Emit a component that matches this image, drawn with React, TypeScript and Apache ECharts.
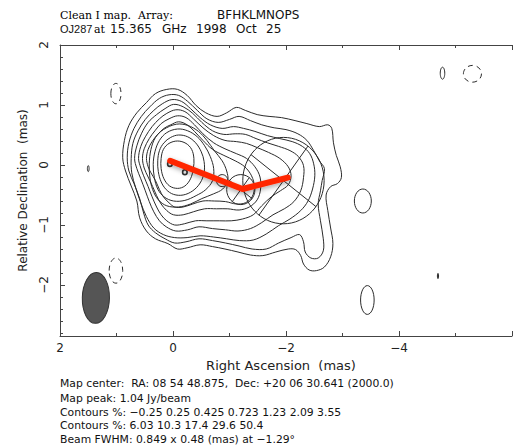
import React, { useEffect, useRef } from 'react';
import * as echarts from 'echarts';

// ---- axis ticks ----
const yMajorTicks = [2, 1, 0, -1, -2];
const yMinorTicks = [1.8, 1.6, 1.4, 1.2, 0.8, 0.6, 0.4, 0.2, -0.2, -0.4, -0.6, -0.8, -1.2, -1.4, -1.6, -1.8, -2.2, -2.4, -2.6, -2.8];

// ---- map metadata ----
const mapPeak = 1.04; // Jy/beam
const contourLevels = [-0.25, 0.25, 0.425, 0.723, 1.23, 2.09, 3.55, 6.03, 10.3, 17.4, 29.6, 50.4];
const beamFWHM = [0.849, 0.48]; // mas
const beamPA = -1.29; // deg
const beamCenter = [1.365, -2.215]; // RA, Dec (mas)
const titleWords2 = ['15.365', 'GHz', '1998', 'Oct', '25'];

// ---- contour traces (RA mas, Dec mas) ----
const contour0250 = [[0.89,0.12],[0.86,0.41],[0.78,0.66],[0.64,0.87],[0.47,1.04],[0.31,1.19],[0.11,1.26],[-0.08,1.26],[-0.25,1.16],[-0.41,0.99],[-0.58,0.87],[-0.78,0.81],[-0.95,0.87],[-1.12,0.96],[-1.28,0.91],[-1.49,0.84],[-1.70,0.81],[-1.92,0.79],[-2.16,0.74],[-2.37,0.69],[-2.59,0.64],[-2.74,0.67],[-2.81,0.61],[-2.84,0.37],[-2.89,0.16],[-2.96,-0.03],[-2.98,-0.21],[-2.91,-0.31],[-2.79,-0.36],[-2.71,-0.50],[-2.74,-0.76],[-2.79,-1.05],[-2.83,-1.31],[-2.79,-1.53],[-2.68,-1.70],[-2.54,-1.76],[-2.41,-1.75],[-2.31,-1.65],[-2.26,-1.51],[-2.17,-1.41],[-2.04,-1.40],[-1.82,-1.45],[-1.59,-1.51],[-1.37,-1.50],[-1.15,-1.45],[-0.92,-1.40],[-0.70,-1.36],[-0.48,-1.33],[-0.25,-1.38],[-0.08,-1.40],[0.09,-1.31],[0.31,-1.23],[0.47,-1.10],[0.59,-0.88],[0.64,-0.60],[0.74,-0.35],[0.84,-0.10]];
const contour0425 = [[0.81,0.12],[0.78,0.37],[0.69,0.61],[0.56,0.81],[0.41,0.97],[0.24,1.11],[0.07,1.17],[-0.10,1.16],[-0.26,1.06],[-0.43,0.91],[-0.60,0.77],[-0.80,0.71],[-1.00,0.76],[-1.17,0.81],[-1.37,0.74],[-1.57,0.67],[-1.79,0.62],[-2.00,0.59],[-2.21,0.52],[-2.37,0.41],[-2.49,0.24],[-2.59,0.07],[-2.68,-0.06],[-2.64,-0.26],[-2.61,-0.43],[-2.57,-0.65],[-2.61,-0.93],[-2.66,-1.23],[-2.66,-1.43],[-2.57,-1.55],[-2.44,-1.55],[-2.34,-1.45],[-2.31,-1.28],[-2.24,-1.16],[-2.09,-1.21],[-1.87,-1.30],[-1.65,-1.40],[-1.40,-1.40],[-1.17,-1.35],[-0.93,-1.30],[-0.70,-1.26],[-0.46,-1.23],[-0.23,-1.28],[-0.03,-1.30],[0.14,-1.23],[0.31,-1.13],[0.44,-1.00],[0.52,-0.80],[0.59,-0.56],[0.69,-0.31],[0.78,-0.10]];
const contour0723 = [[0.74,0.11],[0.71,0.36],[0.62,0.57],[0.49,0.76],[0.34,0.91],[0.19,1.02],[0.02,1.09],[-0.15,1.06],[-0.31,0.94],[-0.48,0.79],[-0.66,0.67],[-0.87,0.61],[-1.07,0.64],[-1.25,0.61],[-1.45,0.56],[-1.67,0.49],[-1.89,0.44],[-2.11,0.39],[-2.29,0.31],[-2.42,0.19],[-2.49,0.02],[-2.51,-0.18],[-2.47,-0.40],[-2.39,-0.60],[-2.26,-0.76],[-2.07,-0.90],[-1.87,-1.01],[-1.65,-1.15],[-1.42,-1.25],[-1.18,-1.26],[-0.95,-1.23],[-0.72,-1.20],[-0.48,-1.18],[-0.25,-1.21],[-0.03,-1.21],[0.17,-1.16],[0.34,-1.05],[0.47,-0.86],[0.57,-0.63],[0.66,-0.38],[0.73,-0.13]];
const contour123 = [[0.68,0.11],[0.64,0.32],[0.56,0.52],[0.44,0.71],[0.29,0.84],[0.14,0.94],[-0.01,1.01],[-0.18,0.97],[-0.35,0.86],[-0.51,0.71],[-0.70,0.57],[-0.90,0.51],[-1.10,0.52],[-1.28,0.51],[-1.47,0.44],[-1.67,0.37],[-1.87,0.31],[-2.07,0.24],[-2.22,0.14],[-2.31,-0.01],[-2.31,-0.21],[-2.26,-0.43],[-2.14,-0.61],[-1.97,-0.73],[-1.77,-0.83],[-1.57,-0.96],[-1.37,-1.06],[-1.15,-1.10],[-0.93,-1.08],[-0.70,-1.06],[-0.46,-1.03],[-0.26,-1.08],[-0.05,-1.10],[0.12,-1.03],[0.24,-0.93],[0.34,-0.78],[0.42,-0.61],[0.49,-0.43],[0.57,-0.23],[0.64,-0.06]];
const contour209 = [[0.61,0.11],[0.57,0.31],[0.49,0.47],[0.37,0.64],[0.24,0.77],[0.11,0.86],[-0.05,0.92],[-0.21,0.89],[-0.36,0.77],[-0.53,0.62],[-0.72,0.49],[-0.92,0.41],[-1.12,0.39],[-1.30,0.36],[-1.49,0.29],[-1.69,0.21],[-1.89,0.11],[-2.04,-0.03],[-2.09,-0.18],[-2.04,-0.33],[-1.90,-0.43],[-1.74,-0.53],[-1.57,-0.68],[-1.42,-0.83],[-1.23,-0.90],[-1.03,-0.93],[-0.82,-0.93],[-0.60,-0.93],[-0.40,-0.93],[-0.20,-0.98],[-0.03,-1.00],[0.11,-0.93],[0.21,-0.83],[0.29,-0.70],[0.37,-0.53],[0.44,-0.36],[0.52,-0.18],[0.57,-0.05]];
const contour355 = [[0.54,0.11],[0.51,0.27],[0.42,0.44],[0.32,0.57],[0.21,0.69],[0.07,0.77],[-0.08,0.82],[-0.23,0.79],[-0.38,0.67],[-0.53,0.52],[-0.72,0.37],[-0.92,0.27],[-1.12,0.19],[-1.30,0.11],[-1.45,-0.03],[-1.54,-0.20],[-1.55,-0.40],[-1.49,-0.58],[-1.35,-0.70],[-1.17,-0.75],[-0.97,-0.73],[-0.77,-0.73],[-0.56,-0.73],[-0.36,-0.78],[-0.18,-0.83],[-0.01,-0.83],[0.11,-0.76],[0.21,-0.65],[0.29,-0.51],[0.36,-0.36],[0.44,-0.20],[0.51,-0.05]];
const contour603 = [[0.47,0.11],[0.44,0.26],[0.37,0.39],[0.27,0.51],[0.16,0.61],[0.04,0.67],[-0.10,0.72],[-0.25,0.67],[-0.38,0.56],[-0.53,0.41],[-0.70,0.26],[-0.90,0.16],[-1.10,0.07],[-1.27,-0.03],[-1.39,-0.18],[-1.44,-0.36],[-1.40,-0.53],[-1.28,-0.63],[-1.12,-0.65],[-0.93,-0.61],[-0.73,-0.60],[-0.53,-0.60],[-0.35,-0.65],[-0.18,-0.70],[-0.03,-0.70],[0.07,-0.63],[0.17,-0.53],[0.24,-0.41],[0.31,-0.26],[0.39,-0.13],[0.44,-0.03]];
const contour103 = [[-0.06,0.68],[-0.26,0.66],[-0.45,0.56],[-0.60,0.41],[-0.73,0.24],[-0.87,0.07],[-0.95,-0.10],[-0.97,-0.26],[-0.88,-0.40],[-0.72,-0.48],[-0.51,-0.56],[-0.31,-0.65],[-0.10,-0.70],[0.11,-0.68],[0.26,-0.58],[0.36,-0.41],[0.41,-0.20],[0.42,0.02],[0.39,0.26],[0.31,0.46],[0.17,0.59]];
const contour174 = [[-0.08,0.60],[-0.26,0.57],[-0.43,0.47],[-0.56,0.32],[-0.66,0.14],[-0.72,-0.06],[-0.70,-0.26],[-0.58,-0.41],[-0.41,-0.51],[-0.21,-0.59],[-0.01,-0.60],[0.16,-0.53],[0.27,-0.40],[0.33,-0.21],[0.35,0.01],[0.32,0.22],[0.24,0.41],[0.11,0.54]];
const contour296 = [[-0.10,0.50],[-0.26,0.47],[-0.40,0.37],[-0.50,0.22],[-0.55,0.06],[-0.55,-0.13],[-0.48,-0.30],[-0.35,-0.43],[-0.18,-0.50],[-0.01,-0.49],[0.12,-0.41],[0.21,-0.28],[0.26,-0.11],[0.27,0.07],[0.24,0.24],[0.16,0.37],[0.04,0.46]];
const contour504 = [[-0.08,0.40],[-0.23,0.36],[-0.33,0.26],[-0.37,0.11],[-0.36,-0.06],[-0.31,-0.23],[-0.21,-0.35],[-0.08,-0.39],[0.06,-0.35],[0.16,-0.23],[0.21,-0.06],[0.21,0.11],[0.17,0.26],[0.07,0.36]];
const mainContours = [contour0250, contour0425, contour0723, contour123, contour209, contour355, contour603, contour103, contour174, contour296, contour504];

// small isolated contours: [RA, Dec, halfWidth, halfHeight]
const negativeIslands = [[1.01, 1.19, 0.09, 0.17], [1.01, -1.76, 0.12, 0.21], [-5.30, 1.52, 0.16, 0.14]];
const positiveIslands = [[1.50, -0.06, 0.015, 0.05], [-3.36, -0.60, 0.15, 0.2], [-3.44, -2.25, 0.12, 0.24], [-4.77, 1.53, 0.04, 0.10], [-4.69, -1.85, 0.01, 0.045]];

// model-fit components: [RA, Dec, radius] (mas)
const modelComponents = [[0.055, 0.017, 0.04], [-0.21, -0.12, 0.04], [-0.87, -0.26, 0.1], [-1.20, -0.41, 0.25], [-1.955, -0.26, 0.72]];
// ridge line joining core, knot and outer component
const ridgeLine = [[0.05, 0.07], [-1.23, -0.40], [-2.03, -0.21]];

const fmt = (v: number) => String(v).replace('-', '\u2212');

const LINE = '#2b2b2b';
const SANS = 'DejaVu Sans';
const SANS2 = 'Liberation Sans';
const SERIF = 'DejaVu Serif';

export default function App() {
  const ref = useRef<HTMLDivElement>(null);
  useEffect(() => {
    if (!ref.current) return;
    const chart = echarts.init(ref.current, undefined, { renderer: 'svg' });
    const levelsA = contourLevels.slice(0, 7).map(fmt).join(' ');
    const levelsB = contourLevels.slice(7).map(fmt).join(' ');
    const infoLines = [
      'Map center:  RA: 08 54 48.875,  Dec: +20 06 30.641 (2000.0)',
      `Map peak: ${mapPeak.toFixed(2)} Jy/beam`,
      `Contours %: ${levelsA}`,
      `Contours %: ${levelsB}`,
      `Beam FWHM: ${beamFWHM[0]} x ${beamFWHM[1]} (mas) at ${fmt(beamPA)}\u00b0`,
    ];
    const infoY = [383, 398, 412, 425, 439];
    const wordX = [110, 162, 196, 236, 266];

    const axisLine = { onZero: false, lineStyle: { color: '#444', width: 1 } };
    const option: any = {
      animation: false,
      backgroundColor: '#fff',
      grid: { left: 60, top: 45, width: 477.6, height: 291, containLabel: false },
      xAxis: [
        {
          type: 'value', min: -6, max: 2, interval: 2, inverse: true, position: 'bottom',
          axisLine: { show: true, ...axisLine },
          axisTick: { show: true, inside: true, length: 5, lineStyle: { color: '#444' } },
          minorTick: { show: true, splitNumber: 2, length: 3, lineStyle: { color: '#444' } },
          splitLine: { show: false },
          axisLabel: { show: true, margin: 6, fontFamily: SANS, fontSize: 12, color: '#222', formatter: (v: number) => (v === -6 ? '' : fmt(v)) },
          name: 'Right Ascension  (mas)', nameLocation: 'middle', nameGap: 23,
          nameTextStyle: { fontFamily: SANS, fontSize: 13, color: '#222', padding: [0, 10, 0, 0] },
        },
        {
          type: 'value', min: -6, max: 2, interval: 2, inverse: true, position: 'top',
          axisLine: { show: true, ...axisLine },
          axisTick: { show: true, inside: true, length: 5, lineStyle: { color: '#444' } },
          minorTick: { show: true, splitNumber: 2, length: 3, lineStyle: { color: '#444' } },
          splitLine: { show: false },
          axisLabel: { show: false },
        },
      ],
      yAxis: [
        {
          type: 'value', min: -2.85, max: 2, position: 'left',
          axisLine: { show: true, ...axisLine },
          axisTick: { show: true, inside: true, length: 5, customValues: yMajorTicks, lineStyle: { color: '#444' } },
          splitLine: { show: false },
          axisLabel: { show: true, customValues: yMajorTicks, rotate: 90, margin: 10, fontFamily: SANS, fontSize: 12, color: '#222', formatter: (v: number) => fmt(v) },
          name: 'Relative Declination  (mas)', nameLocation: 'middle', nameGap: 31, nameRotate: 90,
          nameTextStyle: { fontFamily: SANS, fontSize: 12, color: '#222' },
        },
        {
          type: 'value', min: -2.85, max: 2, position: 'left',
          axisLine: { show: false, onZero: false },
          axisTick: { show: true, inside: true, length: 3, customValues: yMinorTicks, lineStyle: { color: '#444' } },
          splitLine: { show: false },
          axisLabel: { show: false },
        },
      ],
      series: [
        {
          type: 'custom', name: 'contours', silent: true, z: 2,
          data: mainContours.map((c, i) => [c[0][0], c[0][1], i]),
          encode: { x: 0, y: 1 },
          renderItem: (params: any, api: any) => {
            const idx = api.value(2);
            const pts = mainContours[idx].map((p) => api.coord(p));
            return { type: 'polygon', shape: { points: pts, smooth: 0.35 }, style: { fill: 'none', stroke: LINE, lineWidth: 1 } };
          },
        },
        {
          type: 'custom', name: 'islands', silent: true, z: 2,
          data: [...negativeIslands.map((d) => [...d, 1]), ...positiveIslands.map((d) => [...d, 0])],
          encode: { x: 0, y: 1 },
          renderItem: (params: any, api: any) => {
            const c = api.coord([api.value(0), api.value(1)]);
            const s = api.size([api.value(2), api.value(3)]);
            const neg = api.value(4) === 1;
            return {
              type: 'ellipse',
              shape: { cx: c[0], cy: c[1], rx: Math.abs(s[0]), ry: Math.abs(s[1]) },
              style: { fill: 'none', stroke: LINE, lineWidth: 1, lineDash: neg ? [5, 4] : null },
            };
          },
        },
        {
          type: 'custom', name: 'components', silent: true, z: 3,
          data: modelComponents,
          encode: { x: 0, y: 1 },
          renderItem: (params: any, api: any) => {
            const c = api.coord([api.value(0), api.value(1)]);
            const s = api.size([api.value(2), api.value(2)]);
            const rx = Math.abs(s[0]);
            const ry = Math.abs(s[1]);
            const small = api.value(2) < 0.06;
            const children: any[] = [
              { type: 'ellipse', shape: { cx: c[0], cy: c[1], rx, ry }, style: { fill: 'none', stroke: small ? '#333' : LINE, lineWidth: small ? 1.6 : 1 } },
            ];
            if (api.value(2) > 0.2) {
              const a1 = (53 * Math.PI) / 180;
              const a2 = (-37 * Math.PI) / 180;
              [a1, a2].forEach((a) => {
                children.push({
                  type: 'line',
                  shape: { x1: c[0] - rx * Math.cos(a), y1: c[1] + ry * Math.sin(a), x2: c[0] + rx * Math.cos(a), y2: c[1] - ry * Math.sin(a) },
                  style: { stroke: LINE, lineWidth: 1 },
                });
              });
            }
            return { type: 'group', children };
          },
        },
        {
          type: 'custom', name: 'beam', silent: true, z: 3,
          data: [[beamCenter[0], beamCenter[1], beamFWHM[1] / 2, beamFWHM[0] / 2]],
          encode: { x: 0, y: 1 },
          renderItem: (params: any, api: any) => {
            const c = api.coord([api.value(0), api.value(1)]);
            const s = api.size([api.value(2), api.value(3)]);
            return {
              type: 'ellipse',
              x: c[0], y: c[1],
              rotation: (beamPA * Math.PI) / 180,
              shape: { cx: 0, cy: 0, rx: Math.abs(s[0]), ry: Math.abs(s[1]) },
              style: { fill: '#555555', stroke: '#333', lineWidth: 1 },
            };
          },
        },
        {
          type: 'line', name: 'ridge', data: ridgeLine, z: 5, silent: true,
          showSymbol: false, symbol: 'none',
          lineStyle: { color: '#ff2800', width: 6, cap: 'round', join: 'round', shadowColor: 'rgba(0,0,0,0.35)', shadowBlur: 5, shadowOffsetY: 2 },
        },
      ],
      graphic: [
        { type: 'text', x: 60, y: 15, style: { text: 'Clean I map.  Array:', font: `11px "${SERIF}"`, fill: '#000', verticalAlign: 'middle' } },
        { type: 'text', x: 217, y: 15, style: { text: 'BFHKLMNOPS', font: `12px "${SANS}"`, fill: '#111', verticalAlign: 'middle' } },
        { type: 'text', x: 60, y: 29, style: { text: 'OJ287', font: `11px "${SANS2}"`, fill: '#111', verticalAlign: 'middle' } },
        { type: 'text', x: 94, y: 29, style: { text: 'at', font: `11px "${SERIF}"`, fill: '#000', verticalAlign: 'middle' } },
        ...titleWords2.map((w, i) => ({ type: 'text', x: wordX[i], y: 29, style: { text: w, font: `12px "${SANS}"`, fill: '#111', verticalAlign: 'middle' } })),
        ...infoLines.map((t, i) => ({ type: 'text', x: 60, y: infoY[i], style: { text: t, font: `10.8px "${SANS}"`, fill: '#111', verticalAlign: 'middle' } })),
      ],
    };
    chart.setOption(option);
    return () => chart.dispose();
  }, []);
  return <div ref={ref} style={{ position: 'fixed', left: 0, top: 0, width: 515, height: 446, background: '#fff' }} />;
}
